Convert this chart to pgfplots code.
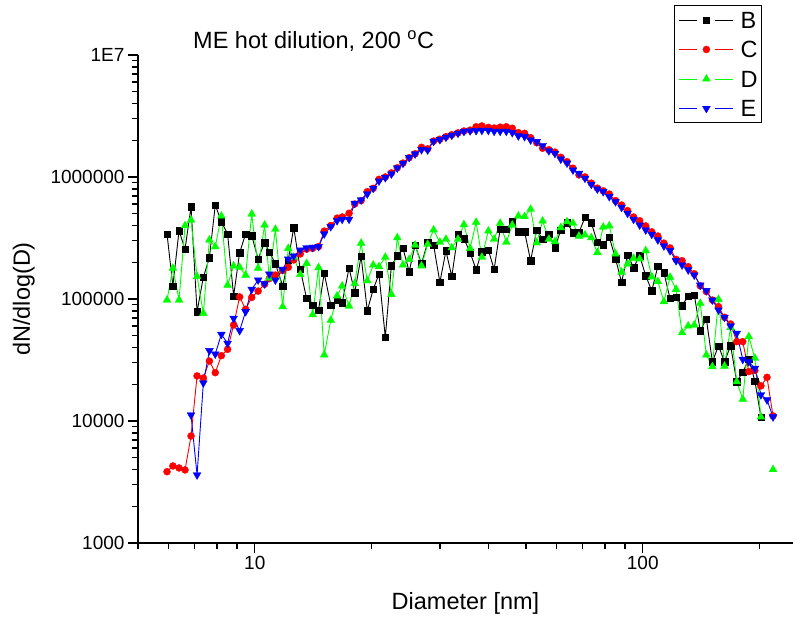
\documentclass[border=0pt]{standalone}
\usepackage{fontspec}
\setmainfont{Liberation Sans}
\usepackage{pgfplots}
\usepackage{pgfplotstable}
\pgfplotsset{compat=1.18}
\definecolor{cB}{rgb}{0,0,0}
\definecolor{cC}{rgb}{1,0,0}
\definecolor{cD}{rgb}{0,1,0}
\definecolor{cE}{rgb}{0,0,1}
\pgfplotsset{gapleg/.style={legend image code/.code={%
  \draw[draw=#1, line width=0.9pt, solid] (0pt,0pt) -- (18pt,0pt) (36pt,0pt) -- (54pt,0pt);
  \draw[##1] plot coordinates {(27pt,0pt)};}}}
\pgfplotstableread{
x B C D E
5.94 341000 3840 98100 nan
6.15 128000 4280 179000 nan
6.38 363000 4120 98100 nan
6.61 255000 3970 399000 nan
6.85 571000 7530 444000 11200
7.10 78700 23400 153000 3610
7.37 151000 22500 76400 20500
7.64 218000 31000 305000 37700
7.91 589000 24900 268000 35400
8.20 430000 34300 479000 51300
8.51 341000 38700 130000 43300
8.82 106000 61200 187000 69500
9.14 240000 104000 182000 55000
9.47 341000 82300 157000 78700
9.82 330000 103000 497000 120000
10.2 213000 116000 179000 143000
10.6 290000 132000 404000 133000
10.9 243000 147000 148000 160000
11.3 194000 157000 373000 143000
11.8 128000 171000 86500 175000
12.2 209000 182000 260000 212000
12.6 385000 209000 220000 225000
13.1 175000 234000 159000 252000
13.6 101000 256000 196000 263000
14.1 89300 260000 74400 265000
14.6 81200 269000 181000 269000
15.1 163000 360000 34800 341000
15.7 89300 400000 66900 392000
16.3 98000 460000 106000 438000
16.8 93300 470000 128000 450000
17.5 179000 504000 87600 450000
18.1 113000 600000 134000 609000
18.8 224000 640000 287000 648000
19.5 80200 758000 141000 726000
20.2 120000 808000 190000 808000
20.9 160000 957000 184000 927000
21.7 48500 1000000 220000 987000
22.5 187000 1080000 109000 1058000
23.3 226000 1190000 318000 1185000
24.1 260000 1300000 190000 1295000
25.0 168000 1440000 211000 1445000
25.9 277000 1550000 277000 1544000
26.9 194000 1750000 187000 1674000
27.9 292000 1700000 281000 1664000
28.9 277000 1970000 368000 1961000
30.0 137000 2040000 292000 2022000
31.1 248000 2140000 309000 2116000
32.2 153000 2220000 263000 2197000
33.4 341000 2300000 309000 2281000
34.6 312000 2380000 407000 2360000
35.9 240000 2420000 260000 2392000
37.2 174000 2580000 426000 2400000
38.5 245000 2620000 220000 2410000
40.0 252000 2550000 361000 2410000
41.4 175000 2520000 309000 2370000
42.9 373000 2560000 418000 2370000
44.5 373000 2580000 292000 2370000
46.1 430000 2510000 404000 2310000
47.8 356000 2310000 479000 2170000
49.6 356000 2280000 474000 2140000
51.4 206000 2100000 544000 2010000
53.3 368000 1910000 289000 1950000
55.2 309000 1720000 436000 1810000
57.3 341000 1670000 309000 1640000
59.4 263000 1600000 295000 1560000
61.5 368000 1450000 385000 1400000
63.8 422000 1335000 430000 1300000
66.1 350000 1180000 418000 1140000
68.5 350000 1040000 328000 1070000
71.0 468000 1000000 335000 976000
73.7 422000 890000 318000 871000
76.4 292000 810000 240000 797000
79.1 279000 770000 389000 758000
82.0 321000 725000 398000 690000
85.1 214000 640000 234000 627000
88.2 137000 589000 166000 564000
91.4 229000 530000 194000 504000
94.7 181000 470000 216000 450000
98.2 226000 438000 213000 404000
101.8 155000 397000 249000 368000
105.5 117000 355000 152000 339000
109.4 185000 328000 139000 305000
113.4 164000 287000 95000 272000
117.6 101000 262000 151000 249000
121.9 103000 211000 120000 206000
126.3 88100 206000 52900 190000
131.0 106000 184000 60100 173000
135.8 108000 161000 61200 157000
140.7 55000 128000 92200 130000
145.9 68600 115000 34800 117000
151.2 30600 98100 27900 98100
156.8 41200 86500 99400 81200
162.5 30600 70800 28200 70800
168.5 41400 62400 58600 60100
174.7 21000 44700 21000 52300
181.1 25200 44700 15100 32000
187.7 32000 25400 49100 30600
194.6 21300 26000 32700 27000
201.7 10800 19400 10800 16400
209.1 nan 22800 nan 14900
216.7 nan 11000 4000 10800
}\datatable
\begin{document}
\begin{tikzpicture}[x=1pt,y=1pt]
\path[use as bounding box] (-138,-75) rectangle (655,543);
\begin{axis}[
  at={(0,0)}, anchor=south west,
  scale only axis, width=655pt, height=488pt,
  xmode=log, ymode=log,
  xmin=5, xmax=244, ymin=1000, ymax=1e7,
  clip=false,
  unbounded coords=jump,
  axis x line*=bottom, axis y line*=left,
  x axis line style={-, line width=1.6pt},
  y axis line style={-, line width=1.6pt},
  tick align=outside,
  major tick length=10pt, minor tick length=6pt,
  every tick/.style={black, line width=1.4pt},
  xtick={10,100}, xticklabels={\textnormal{10},\textnormal{100}},
  minor xtick={5,6,7,8,9,20,30,40,50,60,70,80,90,200},
  ytick={1000,10000,100000,1000000,10000000},
  yticklabels={\textnormal{1000},\textnormal{10000},\textnormal{100000},\textnormal{1000000},\textnormal{1E7}},
  minor ytick={2000,3000,4000,5000,6000,7000,8000,9000,20000,30000,40000,50000,60000,70000,80000,90000,200000,300000,400000,500000,600000,700000,800000,900000,2000000,3000000,4000000,5000000,6000000,7000000,8000000,9000000},
  tick label style={font=\fontsize{19}{19}\selectfont},
  xlabel={Diameter [nm]},
  ylabel={dN/dlog(D)},
  xlabel style={at={(axis description cs:0.5,0)}, anchor=base, yshift=-67pt, font=\fontsize{23.5}{24}\selectfont},
  ylabel style={at={(axis description cs:-0.1649,0.5)}, rotate=0, anchor=base, font=\fontsize{23.5}{24}\selectfont},
  legend style={at={(axis description cs:0.9527,1.1025)}, anchor=north east, draw=black, line width=1pt,
    font=\fontsize{23.5}{24}\selectfont, inner xsep=4pt, inner ysep=6pt, column sep=6.7pt, row sep=12.5pt,
    nodes={inner sep=0pt, text height=17pt, text depth=0pt}},
  legend cell align=left,
]
\addplot[color=cB, line width=0.9pt, mark=square*, mark size=3.2pt, mark options={solid, draw=cB, fill=cB, line width=0.4pt}, gapleg=cB] table[x=x, y=B] {\datatable};
\addlegendentry{B}
\addplot[color=cC, line width=0.9pt, mark=*, mark size=3.5pt, mark options={solid, draw=cC, fill=cC, line width=0.4pt}, gapleg=cC] table[x=x, y=C] {\datatable};
\addlegendentry{C}
\addplot[color=cD, line width=0.9pt, mark=triangle*, mark size=4.5pt, mark options={solid, draw=cD, fill=cD, line width=0.4pt}, gapleg=cD] table[x=x, y=D] {\datatable};
\addlegendentry{D}
\addplot[color=cE, line width=0.9pt, mark=triangle*, mark size=4.5pt, mark options={solid, draw=cE, fill=cE, line width=0.4pt, rotate=180}, gapleg=cE] table[x=x, y=E] {\datatable};
\addlegendentry{E}
\node[anchor=base west, font=\fontsize{23.5}{24}\selectfont, inner sep=0pt] at (axis description cs:0.084,1.0137) {ME hot dilution, 200 \textsuperscript{o}C};
\end{axis}
\end{tikzpicture}
\end{document}
